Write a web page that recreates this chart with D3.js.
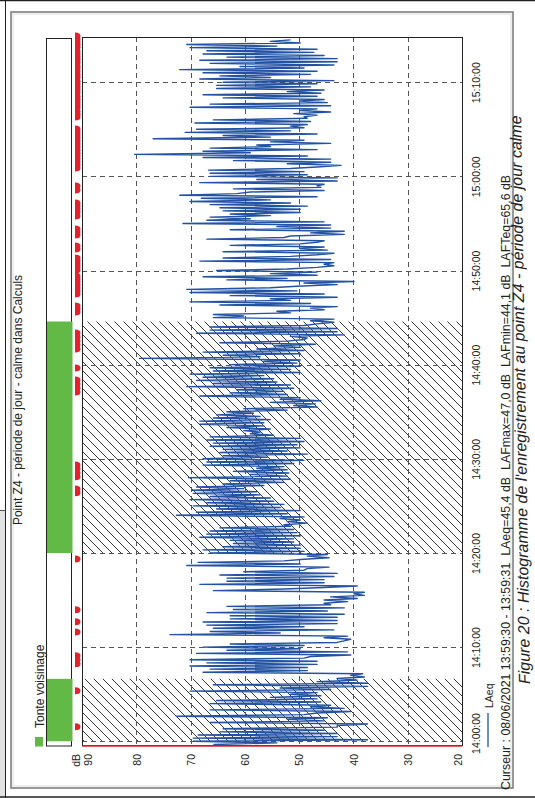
<!DOCTYPE html>
<html>
<head>
<meta charset="utf-8">
<script src="https://cdn.jsdelivr.net/npm/d3@7"></script>
<style>
body { margin: 0; background: #fff; }
svg text { font-family: "Liberation Sans", Arial, sans-serif; fill: #222; }
</style>
</head>
<body>
<div id="chart"></div>
<script>
var day = "2021-06-08";
var parseTime = d3.timeParse("%Y-%m-%d %H:%M:%S");
function at(hms) { return parseTime(day + " " + hms); }

// data
var levelTicks = [90, 80, 70, 60, 50, 40, 30, 20];
var timeTicks = ["14:00:00", "14:10:00", "14:20:00", "14:30:00", "14:40:00", "14:50:00", "15:00:00", "15:10:00"];
var timeDomain = ["13:59:30", "15:14:48"];
var cursorTime = "13:59:30";
var tontePeriods = [["14:00:00", "14:06:38"], ["14:20:00", "14:44:35"]];
// event flags, minutes after 14:00:00
var eventMinutes = [1.54, 5.36, 8.23, 8.65, 9.08, 11.62, 12.69, 13.96, 19.37, 26.4, 26.8,
    28.08, 28.5, 28.93, 29.35, 37.1, 37.52, 37.95, 38.37, 39.65, 41.67, 42.09, 42.52, 42.94, 43.37,
    45.6, 45.91, 46.23, 47.51, 47.82, 48.14, 48.46, 48.78, 49.1, 49.42, 50.05, 50.37, 50.69, 51.01, 51.33,
    52.28, 52.6, 53.77, 54.09, 54.41, 55.79, 56.21, 56.53, 56.85, 57.17, 58.55, 58.97,
    60.88, 61.2, 61.52, 61.84, 62.16, 62.47, 62.79, 63.11, 63.43, 63.75, 64.07, 64.38, 64.7, 65.02,
    66.3, 66.6, 66.9, 67.3, 67.6, 67.9, 68.2, 68.5, 68.9, 69.2, 69.5, 69.8, 70.1, 70.5, 70.8,
    71.1, 71.4, 71.7, 72.1, 72.4, 72.7, 73.0, 73.3, 73.7, 74.0, 74.3, 74.6, 74.9];
var traceStart = "13:59:40";
var traceStepSeconds = 10;
var laeq = [
    // 13:59:40 - 14:18
    65.8,54.1, 69.5,37.4, 69.5,43.0, 68.6,43.0, 64.6,45.4, 64.0,43.0, 43.0,37.4, 66.4,45.4, 52.2,44.8, 72.6,49.1,
    46.7,40.5, 66.4,41.7, 47.9,44.2, 66.4,46.0, 65.2,46.7, 55.3,46.0, 51.6,46.7, 70.1,44.2, 53.5,37.4, 65.8,37.4,
    46.7,39.3, 43.0,38.0, 40.5,38.3, 67.7,48.5, 66.4,48.5, 70.1,46.7, 67.0,46.7, 70.1,49.1, 47.9,40.5, 68.9,41.1,
    63.3,49.8, 67.7,49.1, 62.7,43.0, 41.7,40.5, 45.4,41.1, 73.8,53.5, 66.4,43.6, 65.8,49.1, 67.0,43.0, 67.7,43.0,
    62.7,43.0, 62.7,41.7, 67.0,44.8, 62.1,41.7, 63.3,44.2, 45.4,41.1, 45.4,39.3, 44.2,38.0, 39.9,38.0, 65.8,52.8,
    45.4,39.3, 68.3,45.4, 63.3,45.4, 63.3,43.6, 64.6,43.0, 60.2,49.1,
    // 14:18 - 14:36
    48.5,44.5, 70.7,49.8, 68.6,52.8, 49.1,44.5, 48.5,44.8, 66.4,49.1, 67.7,49.8, 64.0,49.8, 62.1,51.0, 62.7,51.0,
    68.3,49.8, 67.0,50.4, 66.4,51.0, 64.6,51.6, 52.8,48.5, 52.2,49.8, 53.5,49.1, 72.6,52.2, 68.9,49.8, 65.2,53.5,
    69.5,52.8, 67.0,54.7, 70.1,55.3, 66.4,57.2, 69.5,57.8, 69.8,60.2, 68.9,56.5, 64.0,52.8, 62.7,51.6, 70.4,52.2,
    59.0,51.9, 62.1,52.2, 57.8,52.8, 67.7,51.0, 67.0,49.1, 67.7,55.9, 64.0,48.5, 64.6,52.2, 64.0,49.8, 66.4,50.4,
    65.8,49.1, 67.0,49.8, 66.4,54.7, 59.0,57.2, 60.2,55.3, 63.3,56.5, 68.3,56.5, 68.3,55.3, 65.8,57.2, 65.2,58.4,
    63.3,52.2, 60.2,46.7, 51.0,47.0,
    // 14:36 - 14:55
    55.3,46.0, 53.5,49.8, 68.3,52.2, 62.7,52.8, 61.5,51.0, 70.7,51.6, 65.8,54.1, 68.9,54.7, 67.7,56.5, 70.1,49.8,
    65.8,51.6, 66.4,49.8, 62.7,50.4, 56.5,49.8, 79.4,57.2, 64.0,49.8, 67.7,49.1, 57.8,49.8, 54.7,47.0, 64.6,52.2,
    49.1,48.5, 51.6,41.7, 68.9,43.0, 66.4,43.0, 66.4,49.1, 46.7,43.6, 47.9,43.6, 65.8,60.2, 65.8,51.6, 54.1,45.4,
    47.9,43.0, 64.6,47.9, 70.1,51.6, 55.3,43.0, 62.7,45.4, 70.1,50.4, 70.7,55.3, 50.4,43.0, 49.1,39.9, 63.3,52.2,
    67.7,46.7, 55.3,46.7, 65.2,52.2, 46.7,43.6, 45.4,43.6, 68.3,44.2, 64.0,51.6, 46.7,43.6, 64.0,44.8, 49.8,45.4,
    62.7,49.8, 46.7,45.4, 67.0,52.8, 51.6,41.7, 47.9,41.7, 62.7,44.2, 54.1,44.2, 71.4,45.4,
    // 14:55 - 15:14:30
    67.0,59.0, 66.4,55.3, 62.7,49.8, 64.0,49.8, 64.6,48.5, 66.4,51.6, 70.1,55.3, 68.0,46.7, 72.0,61.5, 59.0,45.4,
    62.1,46.0, 46.7,45.4, 68.3,43.0, 57.8,43.0, 66.4,48.5, 66.4,49.1, 66.7,51.6, 46.7,42.3, 52.2,44.2, 62.1,44.2,
    67.7,48.5, 80.3,59.0, 67.7,46.7, 66.4,55.3, 57.8,44.2, 55.3,49.1, 76.9,55.3, 64.0,46.7, 71.0,51.6, 68.9,49.1,
    51.6,48.5, 69.2,47.9, 65.8,48.5, 49.1,46.7, 51.0,44.2, 49.8,46.7, 70.1,44.2, 66.4,44.8, 49.8,45.4, 64.0,46.7,
    67.7,46.0, 52.2,45.4, 65.2,47.9, 65.2,46.7, 64.0,43.6, 68.3,55.3, 64.6,47.9, 67.7,46.7, 72.0,49.1, 60.9,43.6,
    66.4,43.0, 68.3,43.0, 63.3,45.4, 67.7,47.3, 67.0,46.7, 70.1,54.1, 70.7,49.8, 55.3,51.6
];
var titleText = "Point Z4 - période de jour - calme dans Calculs";
var legendText = "Tonte voisinage";
var seriesName = "LAeq";
var cursorText = "Curseur : 08/06/2021 13:59:30 - 13:59:31  LAeq=45,4 dB  LAFmax=47,0 dB  LAFmin=44,1 dB  LAFTeq=65,6 dB";
var captionText = "Figure 20 : Histogramme de l'enregistrement au point Z4 - période de jour calme";

var width = 535, height = 798;
var plot = { left: 82, right: 462, top: 37, bottom: 746 };

var svg = d3.select("#chart").append("svg")
    .attr("width", width)
    .attr("height", height);

// page edges of the scanned document
svg.append("rect").attr("x", 0).attr("y", 510).attr("width", 5.5).attr("height", 288).attr("fill", "#e2e2e2");
svg.append("line").attr("x1", 0).attr("x2", 5.5).attr("y1", 510.5).attr("y2", 510.5).attr("stroke", "#555");
svg.append("line").attr("x1", 5.5).attr("x2", 5.5).attr("y1", 0).attr("y2", height).attr("stroke", "#222");
svg.append("line").attr("x1", 0).attr("x2", width).attr("y1", 0.5).attr("y2", 0.5).attr("stroke", "#222").attr("stroke-width", 1.5);
svg.append("line").attr("x1", 0).attr("x2", width).attr("y1", 797).attr("y2", 797).attr("stroke", "#222").attr("stroke-width", 1.5);

// image frame
svg.append("rect").attr("x", 11).attr("y", 12).attr("width", 502).attr("height", 776)
    .attr("fill", "none").attr("stroke", "#777").attr("stroke-width", 1.5);
svg.append("rect").attr("x", 13).attr("y", 14).attr("width", 498).attr("height", 772)
    .attr("fill", "none").attr("stroke", "#ddd").attr("stroke-width", 1);

var xScale = d3.scaleLinear().domain([90, 20]).range([plot.left, plot.right]);
var yScale = d3.scaleTime().domain(timeDomain.map(at)).range([plot.bottom, plot.top]);
var t0 = at("14:00:00");

var defs = svg.append("defs");
var hatch = defs.append("pattern")
    .attr("id", "hatch")
    .attr("patternUnits", "userSpaceOnUse")
    .attr("width", 9).attr("height", 9);
hatch.append("path")
    .attr("d", "M0,0L9,9M-3,6L3,12M6,-3L12,3")
    .attr("stroke", "#222").attr("stroke-width", 0.9);
defs.append("clipPath").attr("id", "clip").append("rect")
    .attr("x", plot.left).attr("y", plot.top)
    .attr("width", plot.right - plot.left).attr("height", plot.bottom - plot.top);

svg.append("rect")
    .attr("x", plot.left).attr("y", plot.top)
    .attr("width", plot.right - plot.left).attr("height", plot.bottom - plot.top)
    .attr("fill", "#fff");

// hatched periods
svg.selectAll("rect.tonte")
    .data(tontePeriods)
    .enter()
    .append("rect")
    .attr("class", "tonte")
    .attr("x", plot.left)
    .attr("width", plot.right - plot.left)
    .attr("y", d => yScale(at(d[1])))
    .attr("height", d => yScale(at(d[0])) - yScale(at(d[1])))
    .attr("fill", "url(#hatch)");

// grid
var grid = svg.append("g").attr("stroke", "#555").attr("stroke-dasharray", "5,4").attr("stroke-width", 1);
grid.selectAll("line.vg")
    .data(levelTicks.slice(1, -1))
    .enter()
    .append("line")
    .attr("x1", d => Math.round(xScale(d)) + 0.5).attr("x2", d => Math.round(xScale(d)) + 0.5)
    .attr("y1", plot.top).attr("y2", plot.bottom);
grid.selectAll("line.hg")
    .data(timeTicks)
    .enter()
    .append("line")
    .attr("y1", d => Math.round(yScale(at(d))) + 0.5).attr("y2", d => Math.round(yScale(at(d))) + 0.5)
    .attr("x1", plot.left).attr("x2", plot.right);

// LAeq trace
var start = at(traceStart);
var points = laeq.map((v, i) => ({ t: d3.timeSecond.offset(start, i * traceStepSeconds), v: v }));
var line = d3.line().x(d => xScale(d.v)).y(d => yScale(d.t));
svg.append("path")
    .datum(points)
    .attr("clip-path", "url(#clip)")
    .attr("d", line)
    .attr("fill", "none")
    .attr("stroke", "#2352a3")
    .attr("stroke-width", 1.4)
    .attr("stroke-linejoin", "round");

// plot border and cursor
svg.append("rect")
    .attr("x", plot.left + 0.5).attr("y", plot.top + 0.5)
    .attr("width", plot.right - plot.left).attr("height", plot.bottom - plot.top - 1)
    .attr("fill", "none").attr("stroke", "#222").attr("stroke-width", 1);
svg.append("line")
    .attr("x1", plot.left).attr("x2", plot.right)
    .attr("y1", yScale(at(cursorTime))).attr("y2", yScale(at(cursorTime)))
    .attr("stroke", "#d9262e").attr("stroke-width", 1.6);

// tonte legend strip
svg.append("rect")
    .attr("x", 46.5).attr("y", 38.5).attr("width", 25).attr("height", plot.bottom - 38.5)
    .attr("fill", "#fff").attr("stroke", "#222");
svg.selectAll("rect.green")
    .data(tontePeriods)
    .enter()
    .append("rect")
    .attr("x", 47).attr("width", 25.5)
    .attr("y", d => yScale(at(d[1])))
    .attr("height", d => yScale(at(d[0])) - yScale(at(d[1])))
    .attr("fill", "#62b946");

// event flags
svg.selectAll("path.flag")
    .data(eventMinutes)
    .enter()
    .append("path")
    .attr("d", d => {
        var yy = yScale(d3.timeSecond.offset(t0, Math.round(d * 60)));
        return `M75,${yy - 3.5}Q80.5,${yy - 3.5} 80.5,${yy}Q80.5,${yy + 3.5} 75,${yy + 3.5}Z`;
    })
    .attr("fill", "#e8202a");

// dB axis
var xAxis = d3.axisBottom(xScale).tickValues(levelTicks).tickSize(0).tickFormat(d3.format("d"));
var gx = svg.append("g")
    .attr("transform", `translate(0, ${plot.bottom})`)
    .call(xAxis);
gx.select(".domain").remove();
gx.selectAll("text")
    .attr("transform", "rotate(-90)")
    .attr("x", -8).attr("dy", 0)
    .attr("y", d => Math.min(plot.right - 4, Math.max(plot.left + 6, xScale(d))) - xScale(d) + 3.8)
    .style("text-anchor", "end")
    .style("font-size", "10.5px")
    .style("font-family", "'Liberation Sans', Arial, sans-serif")
    .attr("fill", "#222");
svg.append("text")
    .attr("transform", `translate(80, ${plot.bottom + 8}) rotate(-90)`)
    .style("text-anchor", "end")
    .style("font-size", "10.5px")
    .text("dB");

// time axis
var yAxis = d3.axisRight(yScale).tickValues(timeTicks.map(at)).tickSize(0).tickFormat(d3.timeFormat("%H:%M:%S"));
var gy = svg.append("g")
    .attr("transform", `translate(${plot.right}, 0)`)
    .call(yAxis);
gy.select(".domain").remove();
gy.selectAll("text")
    .attr("dy", 0).attr("y", 18)
    .attr("x", d => -Math.min(plot.bottom - 13, yScale(d)))
    .attr("transform", d => `translate(0, ${-yScale(d)}) rotate(-90)`)
    .style("text-anchor", "middle")
    .style("font-size", "10.5px")
    .style("font-family", "'Liberation Sans', Arial, sans-serif")
    .attr("fill", "#222");

// titles and legend
svg.append("text")
    .attr("transform", "translate(22, 400) rotate(-90)")
    .style("text-anchor", "middle")
    .style("font-size", "12px")
    .text(titleText);
svg.append("rect").attr("x", 35).attr("y", 737).attr("width", 8).attr("height", 9.5).attr("fill", "#62b946");
svg.append("text")
    .attr("transform", "translate(43.5, 728) rotate(-90)")
    .style("font-size", "12px")
    .text(legendText);

svg.append("line")
    .attr("x1", 488).attr("x2", 488).attr("y1", 747).attr("y2", 713)
    .attr("stroke", "#2352a3").attr("stroke-width", 1.3);
svg.append("text")
    .attr("transform", "translate(492.5, 708) rotate(-90)")
    .style("font-size", "10.5px")
    .text(seriesName);

svg.append("text")
    .attr("transform", "translate(509.5, 790) rotate(-90)")
    .style("font-size", "12.4px")
    .style("white-space", "pre")
    .text(cursorText);

svg.append("text")
    .attr("transform", "translate(530, 684) rotate(-90.9)")
    .style("font-size", "16px")
    .style("font-style", "italic")
    .text(captionText);
</script>
</body>
</html>
